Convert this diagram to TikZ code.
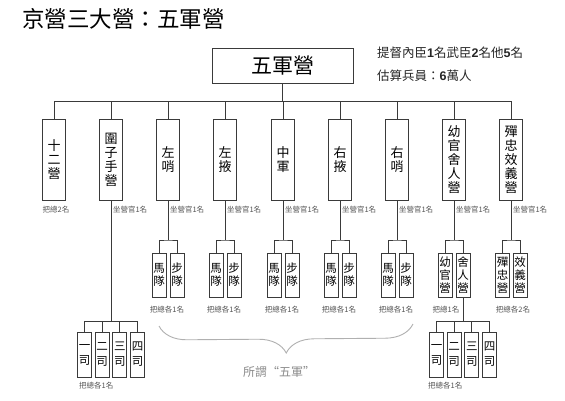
\documentclass[tikz,border=0pt]{standalone}
\usepackage{fontspec}
\newfontfamily\cjk{Noto Sans CJK TC}
\newfontfamily\lsans{Liberation Sans}
\usetikzlibrary{decorations.pathreplacing}
\definecolor{ln}{HTML}{3A3A3A}
\definecolor{lb}{HTML}{555555}
\definecolor{brc}{HTML}{B0B0B0}
\tikzset{
  every node/.style={font=\cjk},
  colbox/.style={draw=ln, line width=0.7pt, minimum width=23pt, minimum height=81pt, inner sep=0pt, align=center, font=\cjk\fontsize{13}{14}\selectfont},
  subbox/.style={draw=ln, line width=0.7pt, minimum width=14pt, minimum height=44pt, inner sep=0pt, align=center, font=\cjk\fontsize{11.5}{13}\selectfont},
  sibox/.style={draw=ln, line width=0.7pt, minimum width=14pt, minimum height=45pt, inner sep=0pt, align=center, font=\cjk\fontsize{11.5}{15}\selectfont},
  lbl/.style={text=lb, inner sep=0pt, font=\cjk\fontsize{7.5}{8}\selectfont},
  conn/.style={draw=ln, line width=0.7pt},
}
\newcommand{\bd}[1]{{\lsans\bfseries #1}}
\begin{document}
\begin{tikzpicture}[x=1pt, y=-1pt]
\useasboundingbox (0,0) rectangle (565,400);
\fill[white] (0,0) rectangle (565,400);

% title
\node[anchor=west, inner sep=0pt, font=\cjk\fontsize{22.5}{24}\selectfont] (title) at (22,19) {京營三大營：五軍營};

% top box
\node[draw=ln, line width=0.7pt, minimum width=141pt, minimum height=35pt, inner sep=0pt, font=\cjk\fontsize{21}{22}\selectfont] (top) at (282.5,65.5) {五軍營};

\node[anchor=west, inner sep=0pt, font=\cjk\fontsize{12.5}{13}\selectfont, text=black!85] (info1) at (377,53) {提督內臣\bd{1}名武臣\bd{2}名他\bd{5}名};
\node[anchor=west, inner sep=0pt, font=\cjk\fontsize{12.5}{13}\selectfont, text=black!85] (info2) at (377,76) {估算兵員：\bd{6}萬人};

% helper coordinates
\coordinate (bus) at (0,101);
\coordinate (h1) at (0,240);
\coordinate (h2) at (0,321.5);

% column boxes
\node[colbox] (c1) at (54,159.5) {十\\二\\營};
\node[colbox] (c2) at (111,159.5) {圍\\子\\手\\營};
\node[colbox] (c3) at (168,159.5) {左\\哨};
\node[colbox] (c4) at (225,159.5) {左\\掖};
\node[colbox] (c5) at (283,159.5) {中\\軍};
\node[colbox] (c6) at (340,159.5) {右\\掖};
\node[colbox] (c7) at (397,159.5) {右\\哨};
\node[colbox] (c8) at (454,159.5) {幼\\官\\舍\\人\\營};
\node[colbox] (c9) at (511,159.5) {殫\\忠\\效\\義\\營};

\draw[conn] (top.south) -- (top.south |- bus);
\draw[conn] (c1.north |- bus) -- (c9.north |- bus);
\foreach \i in {1,...,9} {
  \draw[conn] (c\i.north) -- (c\i.north |- bus);
}

% labels under columns
\node[lbl] (l1) at (56,210) {把總2名};
\foreach \i in {2,...,9} {
  \node[lbl, anchor=west] (lc\i) at ([xshift=1.8pt] c\i.south |- 0,210) {坐營官1名};
}

% sub groups (馬隊/步隊)
\foreach \i/\x in {3/168,4/225,5/283,6/340,7/397} {
  \node[subbox] (s\i a) at (\x-9,275) {馬\\隊};
  \node[subbox] (s\i b) at (\x+9,275) {步\\隊};
  \draw[conn] (c\i.south) -- (c\i.south |- h1);
  \draw[conn] (s\i a.north) |- (c\i.south |- h1) -| (s\i b.north);
  \node[lbl] (g\i) at (\x-1,310) {把總各1名};
}
\node[subbox] (s8a) at (445,275) {幼\\官\\營};
\node[subbox] (s8b) at (463,275) {舍\\人\\營};
\draw[conn] (c8.south) -- (c8.south |- h1);
\draw[conn] (s8a.north) |- (c8.south |- h1) -| (s8b.north);
\node[lbl] (g8) at (446,310) {把總1名};

\node[subbox] (s9a) at (502.5,275) {殫\\忠\\營};
\node[subbox] (s9b) at (520,275) {效\\義\\營};
\draw[conn] (c9.south) -- (c9.south |- h1);
\draw[conn] (s9a.north) |- (c9.south |- h1) -| (s9b.north);
\node[lbl] (g9) at (513,310) {把總各2名};

% left 司 group under 圍子手營
\node[sibox] (a1) at (84.5,354.5) {一\\司};
\node[sibox] (a2) at (102.2,354.5) {二\\司};
\node[sibox] (a3) at (119.8,354.5) {三\\司};
\node[sibox] (a4) at (137.5,354.5) {四\\司};
\draw[conn] (c2.south) -- (c2.south |- h2);
\draw[conn] (a1.north) |- (a2.north |- h2) -| (a4.north);
\draw[conn] (a2.north) -- (a2.north |- h2);
\draw[conn] (a3.north) -- (a3.north |- h2);
\node[lbl, anchor=west] (ga) at (79,386) {把總各1名};

% right 司 group under 舍人營
\node[sibox] (b1) at (436.5,354.5) {一\\司};
\node[sibox] (b2) at (454.2,354.5) {二\\司};
\node[sibox] (b3) at (471.8,354.5) {三\\司};
\node[sibox] (b4) at (489.5,354.5) {四\\司};
\draw[conn] (s8b.south) -- (s8b.south |- h2);
\draw[conn] (b1.north) |- (b2.north |- h2) -| (b4.north);
\draw[conn] (b2.north) -- (b2.north |- h2);
\draw[conn] (b3.north) -- (b3.north |- h2);
\node[lbl, anchor=west] (gb) at (428,386) {把總各1名};

% brace
\coordinate (br1) at (413,324);
\coordinate (br2) at (159,326);
\draw[brc, line width=0.9pt, decorate, decoration={brace, amplitude=28pt}] (br1) -- (br2);
\node[text=black!45, inner sep=0pt, font=\cjk\fontsize{12}{13}\selectfont] (wujun) at (279,372) {所謂“五軍”};
\end{tikzpicture}
\end{document}
